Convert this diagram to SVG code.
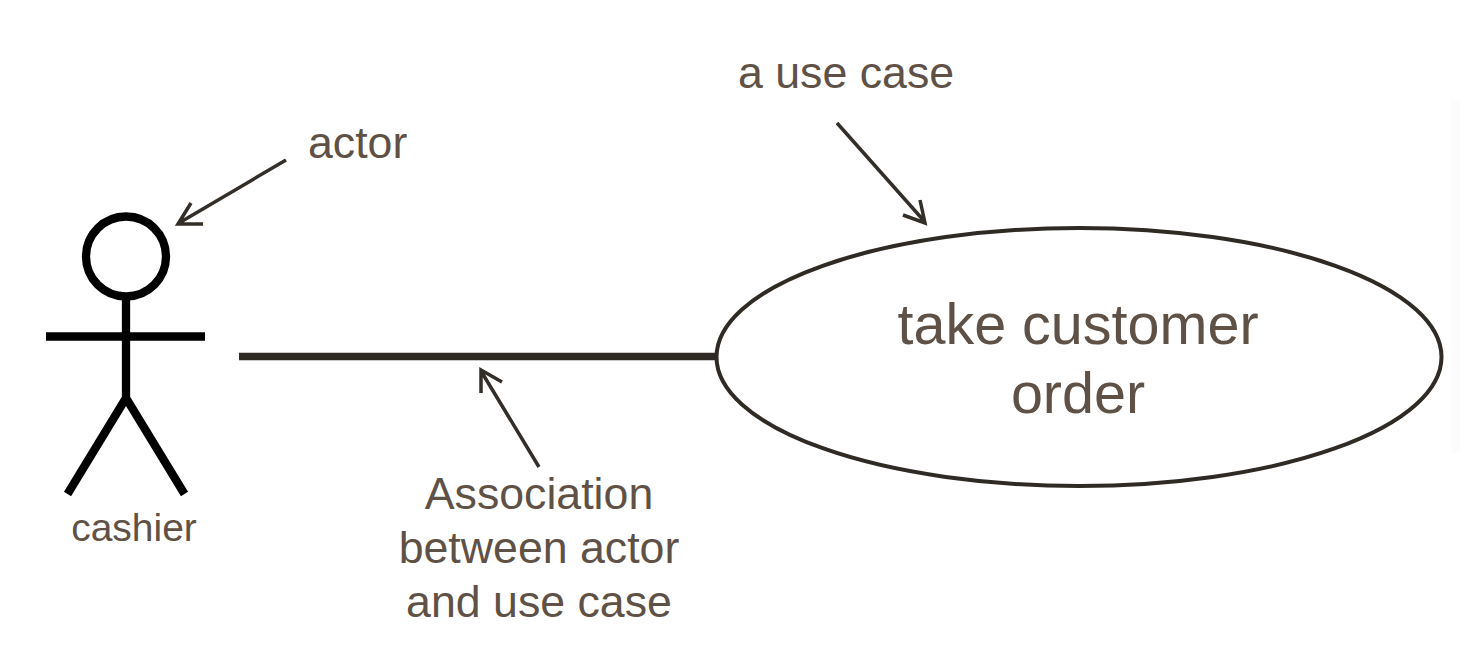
<svg xmlns="http://www.w3.org/2000/svg" width="1460" height="652" viewBox="0 0 1460 652">
<style>
text{font-family:"Liberation Sans",Arial,sans-serif;fill:#5f5146}
.a{font-size:44.7px}
.b{font-size:57.5px}
.c{font-size:39px}
.fig{fill:none;stroke:#000;stroke-width:8.3}
.ptr{fill:none;stroke:#332e28;stroke-width:3.5}
</style>
<rect width="1460" height="652" fill="#fff"/>
<rect x="1451" y="100" width="9" height="354" fill="#fcfcfc"/>
<g id="connectors">
<line x1="239" y1="356.5" x2="717" y2="356.5" stroke="#2f2a24" stroke-width="7.3"/>
<path class="ptr" d="M286 160L179 223M191 203L178 224L203 224"/>
<path class="ptr" d="M837 123L925 222M920 200L925 223L903 215"/>
<path class="ptr" d="M539 467L481 371M481 393L481 370L502 382"/>
</g>
<g id="actor">
<circle class="fig" cx="126" cy="256.500" r="40"/>
<path class="fig" d="M126 296V398M46 336.500H205M126 398L67.500 494M126 398L184.500 494"/>
<text x="134" y="541" text-anchor="middle" class="c">cashier</text>
</g>
<g id="usecase">
<ellipse cx="1079" cy="357" rx="362.500" ry="129" fill="#fff" stroke="#2f2a24" stroke-width="4"/>
<text x="1078" y="344" text-anchor="middle" class="b">take customer</text>
<text x="1078" y="413" text-anchor="middle" class="b">order</text>
</g>
<g id="label-actor"><text x="308" y="158" class="a">actor</text></g>
<g id="label-usecase"><text x="738" y="88" class="a">a use case</text></g>
<g id="label-association">
<text x="539" y="509" text-anchor="middle" class="a">Association</text>
<text x="539" y="563" text-anchor="middle" class="a">between actor</text>
<text x="539" y="617" text-anchor="middle" class="a">and use case</text>
</g>
</svg>
